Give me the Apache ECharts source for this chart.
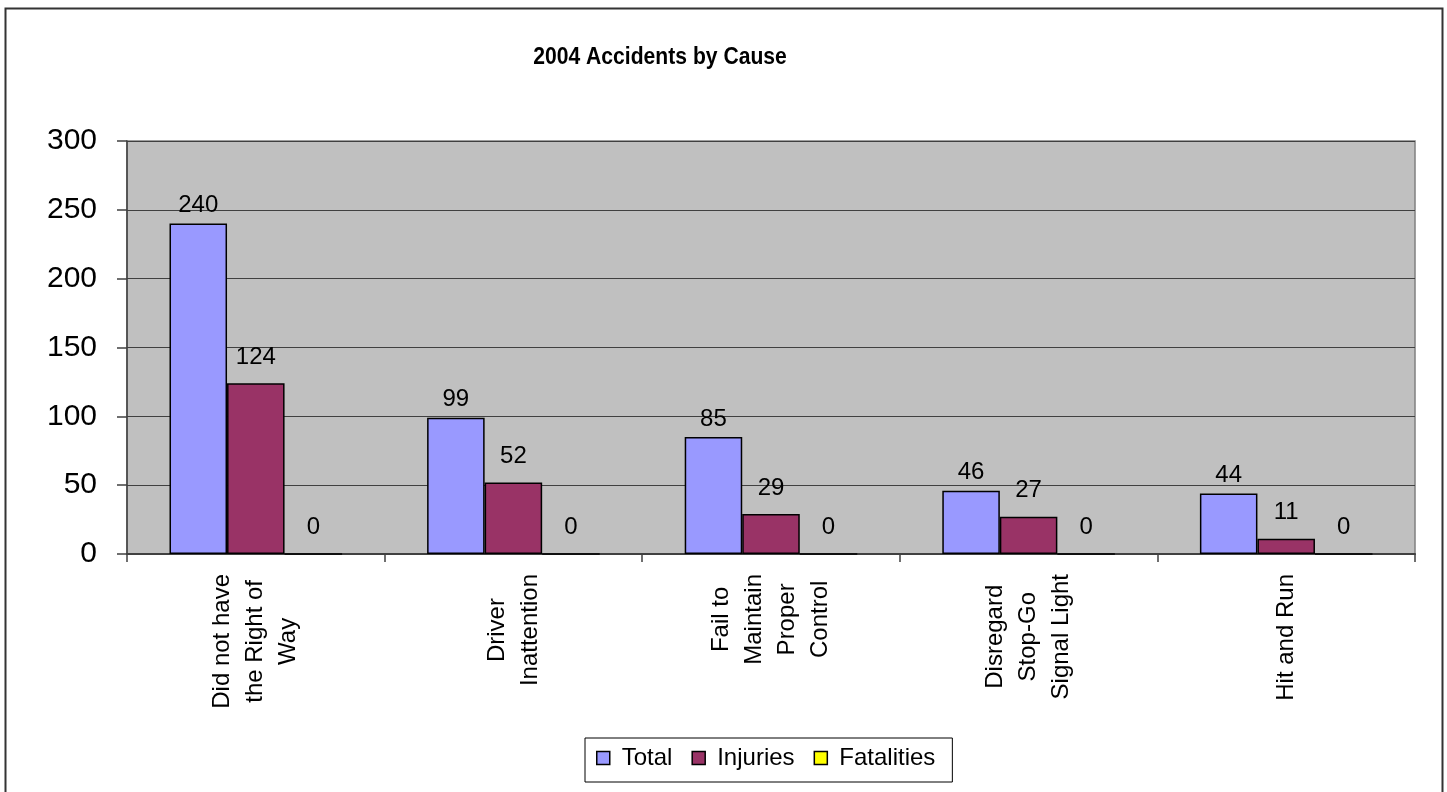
<!DOCTYPE html>
<html>
<head>
<meta charset="utf-8">
<script src="https://cdn.jsdelivr.net/npm/echarts@6/dist/echarts.min.js"></script>
<style>
html,body{margin:0;padding:0;background:#fff;}
#chart{width:1447px;height:792px;}
</style>
</head>
<body>
<div id="chart"></div>
<script>
var categories = [
  ['Did not have', 'the Right of', 'Way'],
  ['Driver', 'Inattention'],
  ['Fail to', 'Maintain', 'Proper', 'Control'],
  ['Disregard', 'Stop-Go', 'Signal Light'],
  ['Hit and Run']
];
var totalValues = [240, 99, 85, 46, 44];
var injuryValues = [124, 52, 29, 27, 11];
var fatalityValues = [0, 0, 0, 0, 0];
var seriesNames = ['Total', 'Injuries', 'Fatalities'];
var yTicks = { min: 0, max: 300, interval: 50 };
var chartTitle = '2004 Accidents by Cause';

var FONT = "'Liberation Sans', Arial, sans-serif";
var chart = echarts.init(document.getElementById('chart'));

var catKeys = categories.map(function (c) { return c.join(' '); });

function barSeries(name, data, color, dist) {
  return {
    name: name,
    type: 'bar',
    data: data,
    barGap: '0%',
    barCategoryGap: '33%',
    itemStyle: { color: color, borderColor: '#000', borderWidth: 1.5 },
    label: {
      show: true,
      position: 'top',
      distance: dist,
      color: '#000',
      fontFamily: FONT,
      fontSize: 24
    }
  };
}

chart.setOption({
  animation: false,
  backgroundColor: '#fff',
  graphic: [{
    type: 'rect',
    shape: { x: 5.5, y: 8.5, width: 1437, height: 800 },
    style: { fill: 'none', stroke: '#333', lineWidth: 2 },
    silent: true,
    z: 100
  }, {
    type: 'text',
    x: 660,
    y: 57,
    scaleX: 0.88,
    silent: true,
    style: {
      text: chartTitle,
      x: 0,
      y: 0,
      fill: '#000',
      font: "bold 24px 'Liberation Sans', Arial, sans-serif",
      textAlign: 'center',
      textVerticalAlign: 'middle'
    }
  }],
  legend: {
    data: seriesNames,
    left: 585,
    top: 738,
    orient: 'horizontal',
    padding: [8, 17, 12, 11],
    itemGap: 19,
    itemWidth: 13,
    itemHeight: 13,
    icon: 'rect',
    borderColor: '#000',
    borderWidth: 1,
    backgroundColor: '#fff',
    itemStyle: { borderColor: '#000', borderWidth: 1.5 },
    textStyle: { fontFamily: FONT, fontSize: 24, color: '#000', padding: [0, 0, 0, 7], lineHeight: 22 }
  },
  grid: {
    left: 127,
    right: 32,
    top: 141,
    bottom: 238,
    show: true,
    backgroundColor: '#C0C0C0',
    borderColor: '#808080',
    borderWidth: 1.5,
    containLabel: false
  },
  xAxis: {
    type: 'category',
    data: catKeys,
    axisLine: { show: true, lineStyle: { color: '#404040', width: 2 } },
    axisTick: { show: true, length: 8, lineStyle: { color: '#404040', width: 1.5 } },
    axisLabel: {
      interval: 0,
      rotate: 90,
      margin: 20,
      color: '#000',
      fontFamily: FONT,
      fontSize: 24,
      lineHeight: 33,
      formatter: function (v, i) {
        return categories[i].map(function (l) { return '{a|' + l + '}'; }).join('\n');
      },
      rich: { a: { align: 'center', fontFamily: FONT, fontSize: 24, lineHeight: 33, color: '#000' } }
    }
  },
  yAxis: {
    type: 'value',
    min: yTicks.min,
    max: yTicks.max,
    interval: yTicks.interval,
    axisLine: { show: true, lineStyle: { color: '#404040', width: 1.5 } },
    axisTick: { show: true, length: 10, lineStyle: { color: '#404040', width: 1.5 } },
    axisLabel: { margin: 30, color: '#000', fontFamily: FONT, fontSize: 30 },
    splitLine: { show: true, lineStyle: { color: '#404040', width: 1 } }
  },
  series: [
    barSeries(seriesNames[0], totalValues, '#9999FF', 6),
    barSeries(seriesNames[1], injuryValues, '#993366', 14),
    barSeries(seriesNames[2], fatalityValues, '#FFFF00', 14)
  ]
});
</script>
</body>
</html>
